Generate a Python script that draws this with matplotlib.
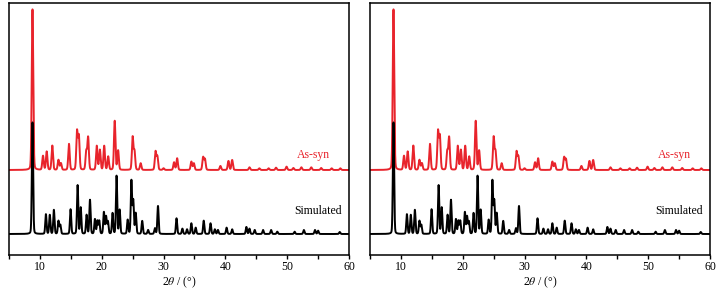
import numpy as np
import matplotlib.pyplot as plt
from matplotlib.ticker import MultipleLocator

# peak positions (2theta) and heights (arbitrary units)
sim_pos = [8.8, 10.97, 11.6, 12.26, 13.0, 13.3, 14.96, 16.1, 16.6, 17.55, 18.1,
           18.9, 19.3, 19.6, 20.35, 20.7, 21.0, 21.75, 22.4, 22.9, 24.2, 24.8,
           25.1, 25.5, 26.55, 27.5, 28.6, 29.1, 32.1, 33.05, 33.8, 34.5, 35.2,
           36.5, 37.6, 38.3, 38.8, 40.2, 41.1, 43.4, 43.9, 44.75, 46.1, 47.4,
           48.4, 51.2, 52.7, 54.5, 55.0, 58.5]
sim_h = [335, 59, 57, 72, 39, 27, 74, 146, 79, 57, 102,
         44, 39, 39, 65, 52, 37, 62, 174, 72, 42, 159,
         99, 62, 39, 12, 17, 84, 47, 16, 14, 32, 19,
         40, 32, 14, 12, 19, 14, 21, 16, 12, 12, 12,
         7, 7, 12, 12, 10, 6]

syn_pos = [8.8, 10.5, 11.1, 12.0, 13.0, 13.4, 14.7, 16.0, 16.3, 17.5, 17.8,
           19.2, 19.7, 20.4, 21.05, 22.1, 22.65, 25.0, 25.3, 26.3, 28.7, 29.0,
           30.0, 31.7, 32.2, 34.5, 34.9, 36.4, 36.7, 39.2, 40.5, 41.1, 43.9,
           45.5, 47.0, 48.2, 49.9, 51.0, 52.3, 53.9, 55.5, 57.2, 58.6]
syn_h = [482, 42, 55, 73, 30, 20, 78, 115, 100, 55, 97,
         72, 60, 72, 40, 147, 58, 98, 55, 20, 55, 40,
         5, 23, 35, 25, 20, 38, 32, 12, 27, 30, 8,
         5, 5, 7, 10, 6, 8, 8, 6, 5, 5]

sim_base = 63
syn_base = 255

x = np.linspace(5, 60, 6000)


def pattern(pos, h, w):
    y = np.zeros_like(x)
    for p, a in zip(pos, h):
        g = np.exp(-4 * np.log(2) * ((x - p) / w) ** 2)
        l = 1 / (1 + 4 * ((x - p) / w) ** 2)
        y += a * (0.85 * g + 0.15 * l)
    return y


y_sim = sim_base + pattern(sim_pos, sim_h, 0.24)
y_syn = syn_base + pattern(syn_pos, syn_h, 0.28)

plt.rcParams['font.family'] = 'Liberation Serif'
plt.rcParams['mathtext.fontset'] = 'stix'

fig = plt.figure(figsize=(7.22, 2.91), dpi=100)
W, H = 722, 291

for left in [9, 370]:
    ax = fig.add_axes([left / W, 36 / H, 340 / W, 252 / H])
    ax.plot(x, y_syn, color='#e8242c', linewidth=1.4)
    ax.plot(x, y_sim, color='black', linewidth=1.4)
    ax.set_xlim(5, 60)
    ax.set_ylim(0, 756)
    ax.set_yticks([])
    ax.xaxis.set_major_locator(MultipleLocator(10))
    ax.xaxis.set_minor_locator(MultipleLocator(5))
    ax.tick_params(axis='x', which='both', direction='out', length=3, width=1,
                   labelsize=8.5, pad=1.5)
    for s in ax.spines.values():
        s.set_linewidth(1.1)
    ax.text(56.9, 300, 'As-syn', color='#e8242c', fontsize=8.5, ha='right', va='center')
    ax.text(58.9, 132, 'Simulated', color='black', fontsize=8.5, ha='right', va='center')
    ax.set_xlabel(r'2$\theta$ / (°)', fontsize=8.5, labelpad=1)

fig.savefig('out.png', dpi=100)
